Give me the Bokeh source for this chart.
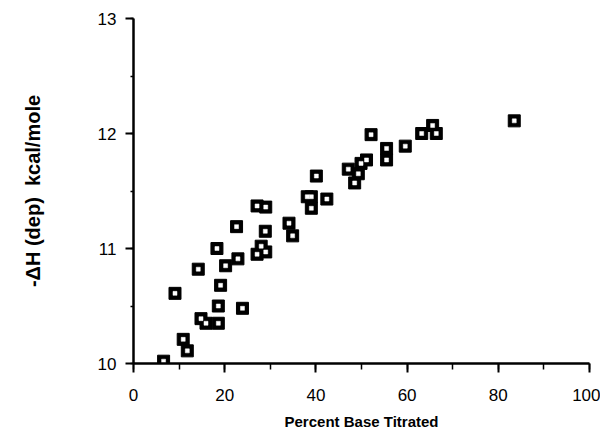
from bokeh.plotting import figure
from bokeh.models import SingleIntervalTicker, Range1d
from bokeh.embed import file_html
from bokeh.resources import INLINE

# Data
percent_base = [6.6, 10.9, 11.8, 9.1, 14.2, 18.3, 20.2, 19.1, 18.6, 14.8, 15.9, 18.6,
                23.9, 22.9, 22.6, 27.1, 28.0, 29.0, 28.9, 27.1, 29.0, 34.1, 34.9, 38.1,
                39.0, 39.0, 42.4, 40.1, 47.1, 49.3, 48.5, 51.1, 49.9, 52.1, 55.5, 55.5,
                59.6, 63.2, 65.6, 66.4, 83.5]
dh_dep = [10.02, 10.21, 10.11, 10.61, 10.82, 11.00, 10.85, 10.68, 10.50, 10.39, 10.35, 10.35,
          10.48, 10.91, 11.19, 10.95, 11.02, 10.97, 11.15, 11.37, 11.36, 11.22, 11.11, 11.45,
          11.45, 11.35, 11.43, 11.63, 11.69, 11.65, 11.57, 11.77, 11.74, 11.99, 11.87, 11.77,
          11.89, 12.00, 12.07, 12.00, 12.11]

x_label = "Percent Base Titrated"
y_label = "-\u0394H (dep)\u00a0 kcal/mole"

p = figure(width=600, height=432, output_backend="svg", toolbar_location=None,
           x_range=Range1d(0, 100), y_range=Range1d(10, 13),
           min_border_left=133, min_border_top=18, min_border_right=11, min_border_bottom=69)
p.outline_line_color = None
p.xgrid.visible = False
p.ygrid.visible = False
p.background_fill_color = "white"
p.border_fill_color = "white"

p.scatter(percent_base, dh_dep, marker="square", size=12, fill_color="black", line_color="black")
p.scatter(percent_base, dh_dep, marker="square", size=4, fill_color="white", line_color="white", line_width=0.5)

font = "Liberation Sans"
for ax in (p.xaxis[0], p.yaxis[0]):
    ax.axis_line_width = 2.5
    ax.axis_line_color = "black"
    ax.major_tick_line_width = 2
    ax.minor_tick_line_width = 1.5
    ax.major_tick_in = 0
    ax.minor_tick_in = 0
    ax.major_label_text_font = font
    ax.major_label_text_font_size = "17px"
    ax.major_label_text_color = "black"
    ax.axis_label_text_font = font
    ax.axis_label_text_font_style = "bold"
    ax.axis_label_text_color = "black"

p.xaxis.ticker = SingleIntervalTicker(interval=20, num_minor_ticks=2)
p.yaxis.ticker = SingleIntervalTicker(interval=1, num_minor_ticks=2)
p.xaxis.major_tick_out = 9
p.xaxis.minor_tick_out = 6
p.yaxis.major_tick_out = 8
p.yaxis.minor_tick_out = 3
p.xaxis.major_label_standoff = 16
p.yaxis.major_label_standoff = 9
p.xaxis.axis_label = x_label
p.yaxis.axis_label = y_label
p.xaxis.axis_label_text_font_size = "15px"
p.yaxis.axis_label_text_font_size = "20px"
p.xaxis.axis_label_standoff = 9
p.yaxis.axis_label_standoff = 51

open("out.html", "w").write(file_html(p, INLINE))
